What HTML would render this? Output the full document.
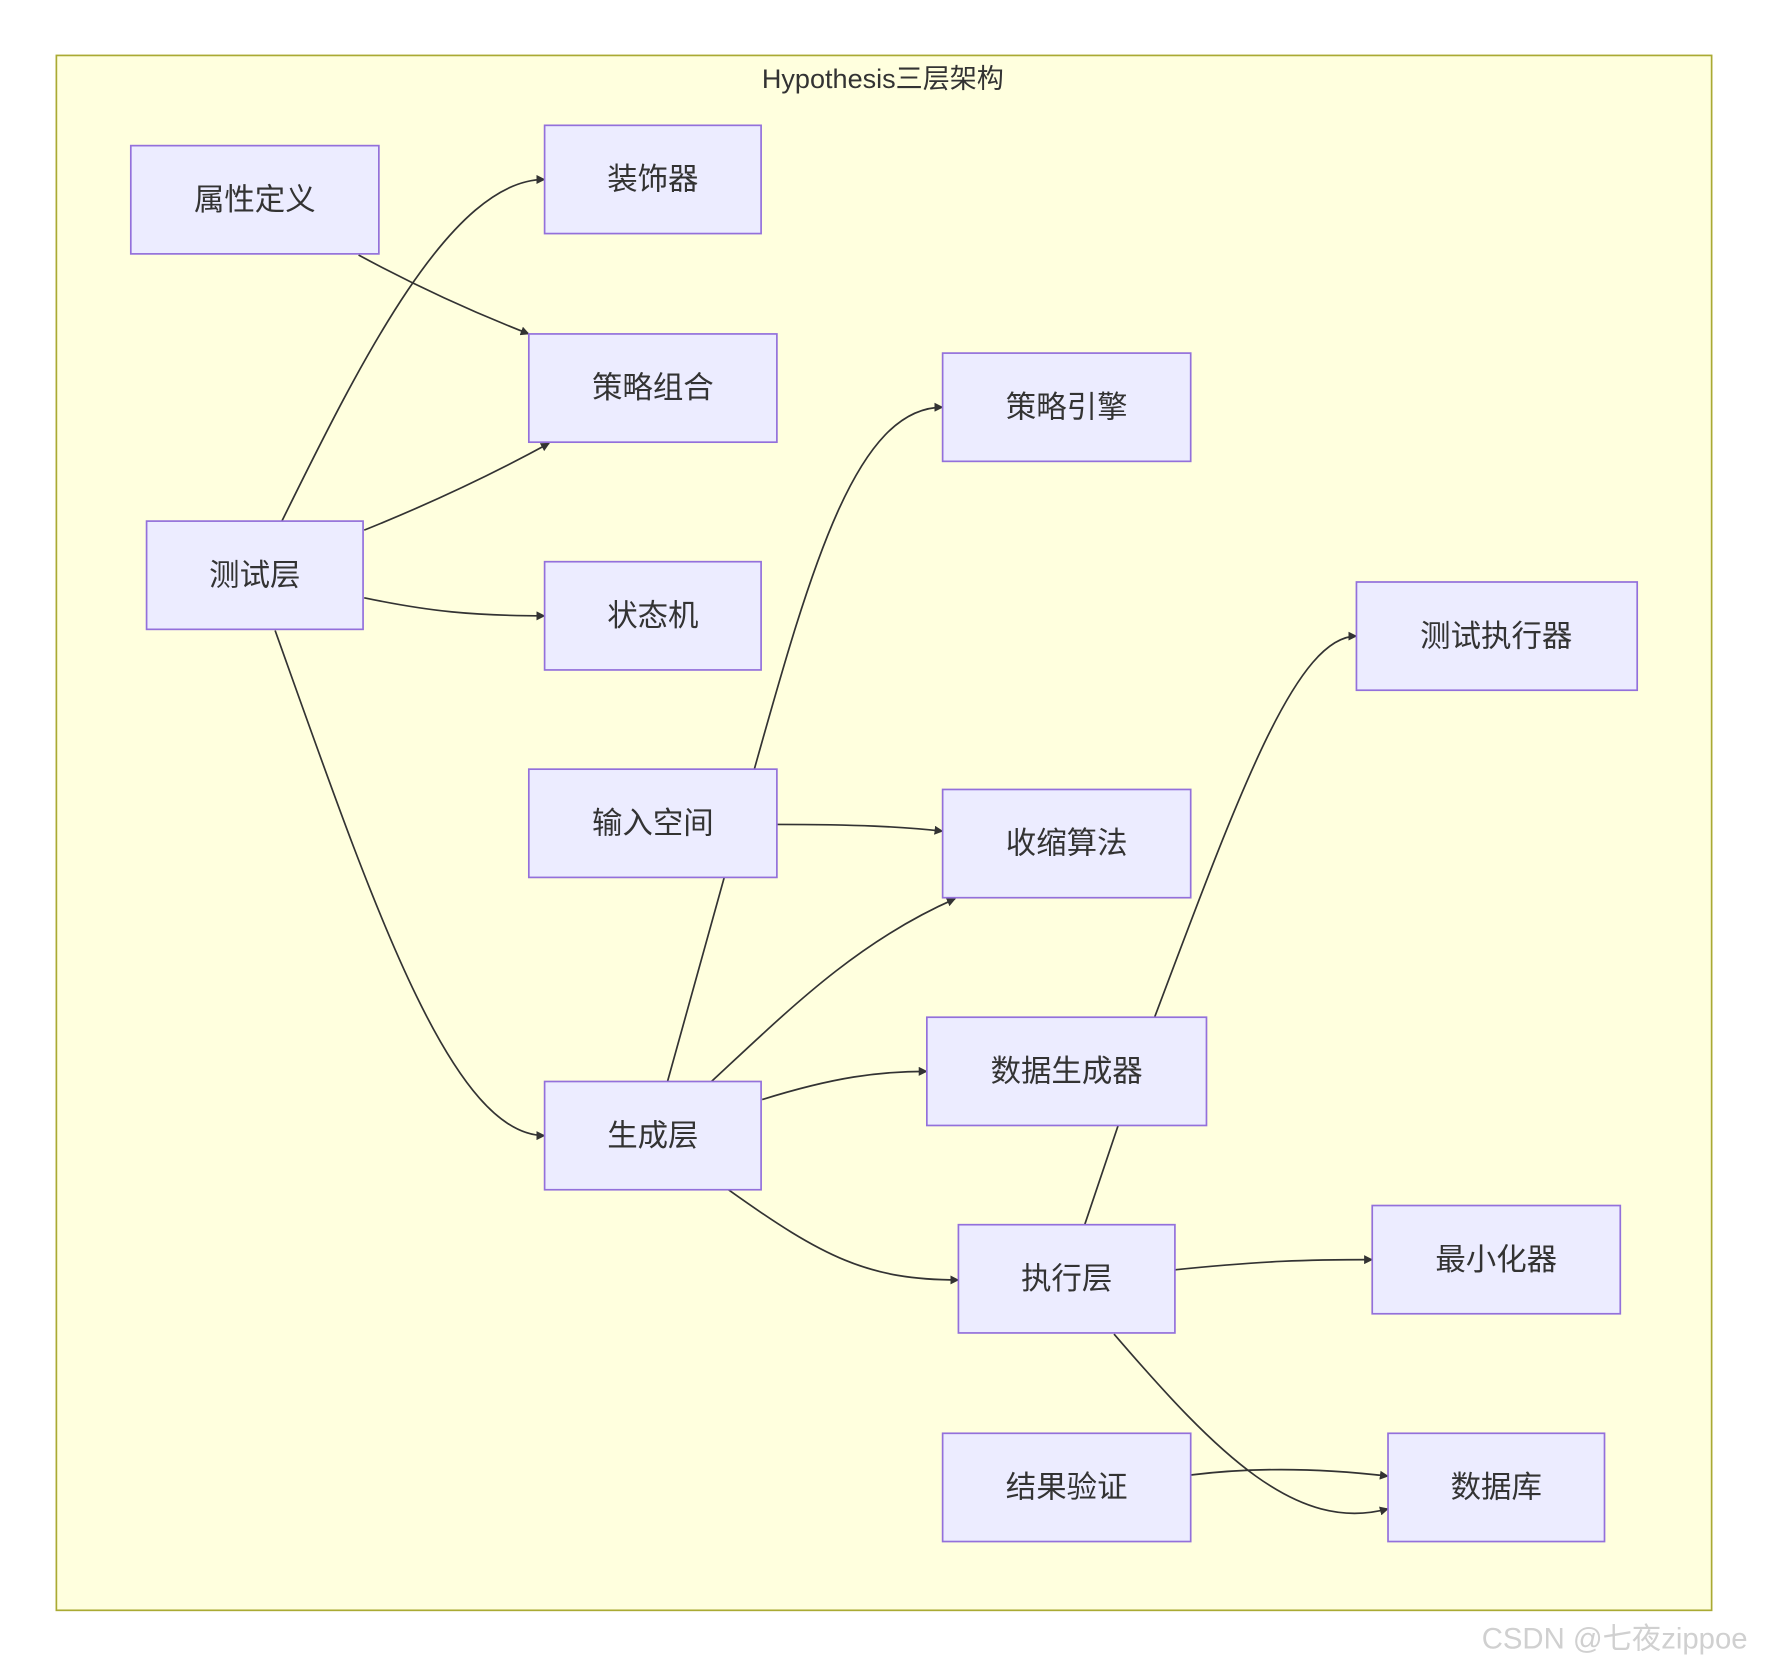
<!DOCTYPE html>
<html><head><meta charset="utf-8"><style>
html,body{margin:0;padding:0;background:#fff;}
svg{display:block;}
text{font-family:"Liberation Sans","Noto Sans CJK SC",sans-serif;fill:#333;}
</style></head><body>
<svg width="1768" height="1668" viewBox="0 0 1568 1479" xmlns="http://www.w3.org/2000/svg">
<defs><marker id="a" viewBox="0 0 10 10" refX="9" refY="5" markerWidth="8" markerHeight="8" orient="auto-start-reverse" markerUnits="userSpaceOnUse"><path d="M0,0 L10,5 L0,10 z" fill="#333"/></marker></defs>
<rect x="50" y="49" width="1468" height="1379" fill="#ffffde" stroke="#aaaa33" stroke-width="1.5"/>
<text x="783" y="78" font-size="24" text-anchor="middle">Hypothesis三层架构</text>
<g fill="none" stroke="#333" stroke-width="1.5" marker-end="url(#a)">
<path d="M250,462 C320,320 400,159 483,159"/>
<path d="M318,226 Q390,265 469,296"/>
<path d="M323,470 Q410,435 487,393"/>
<path d="M323,530 C380,542 420,546 483,546"/>
<path d="M244,559 C330,800 400,1007 483,1007"/>
<path d="M592,959 L669,682 C720,500 760,361 836,361"/>
<path d="M689,731 C760,731 800,733 836,737"/>
<path d="M631,959 C700,895 760,835 847,797"/>
<path d="M676,975 C740,955 780,950 822,950"/>
<path d="M646,1055 C730,1115 770,1135 850,1135"/>
<path d="M962,1086 L1024,902 C1100,700 1150,564 1203,564"/>
<path d="M1042,1126 C1120,1118 1160,1117 1217,1117"/>
<path d="M988,1183 C1080,1290 1150,1360 1231,1338"/>
<path d="M1056,1308 C1120,1300 1180,1303 1231,1309"/>
</g>
<g fill="#ececff" stroke="#9370db" stroke-width="1.5">
<rect x="116" y="129" width="220" height="96"/>
<rect x="483" y="111" width="192" height="96"/>
<rect x="469" y="296" width="220" height="96"/>
<rect x="836" y="313" width="220" height="96"/>
<rect x="130" y="462" width="192" height="96"/>
<rect x="483" y="498" width="192" height="96"/>
<rect x="1203" y="516" width="249" height="96"/>
<rect x="469" y="682" width="220" height="96"/>
<rect x="836" y="700" width="220" height="96"/>
<rect x="822" y="902" width="248" height="96"/>
<rect x="483" y="959" width="192" height="96"/>
<rect x="850" y="1086" width="192" height="96"/>
<rect x="1217" y="1069" width="220" height="96"/>
<rect x="836" y="1271" width="220" height="96"/>
<rect x="1231" y="1271" width="192" height="96"/>
</g>
<g font-size="27" text-anchor="middle">
<text x="226" y="186">属性定义</text>
<text x="579" y="168">装饰器</text>
<text x="579" y="353">策略组合</text>
<text x="946" y="370">策略引擎</text>
<text x="226" y="519">测试层</text>
<text x="579" y="555">状态机</text>
<text x="1327" y="573">测试执行器</text>
<text x="579" y="739">输入空间</text>
<text x="946" y="757">收缩算法</text>
<text x="946" y="959">数据生成器</text>
<text x="579" y="1016">生成层</text>
<text x="946" y="1143">执行层</text>
<text x="1327" y="1126">最小化器</text>
<text x="946" y="1328">结果验证</text>
<text x="1327" y="1328">数据库</text>
</g>
<text x="1432" y="1462" font-size="26" text-anchor="middle" style="fill:#d0d0d0">CSDN @七夜zippoe</text>
</svg>
</body></html>
